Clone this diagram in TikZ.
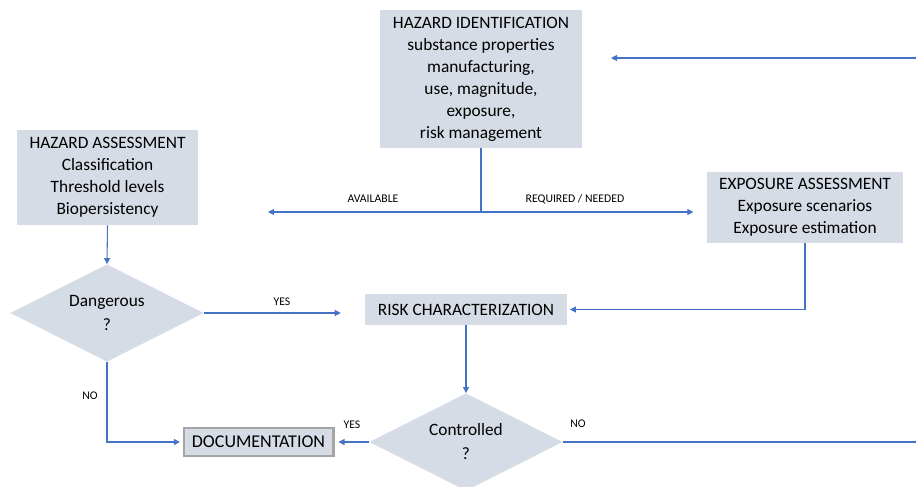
\documentclass[tikz,border=0pt]{standalone}
\usepackage{fontspec}
\setmainfont{Carlito}
\usepackage{tikz}
\usetikzlibrary{
    arrows.meta,
    positioning,
    shapes.geometric,
    calc
}
\definecolor{flowBlue}{RGB}{68,114,196}
\definecolor{boxFill}{RGB}{214,220,229}
\definecolor{docEdge}{RGB}{165,165,165}
\tikzset{
  box/.style      = {fill=boxFill, align=center, inner sep=2pt,
                     font=\fontsize{13}{16.5}\selectfont},
  decision/.style = {diamond, fill=boxFill, aspect=2, minimum width=145pt,
                     minimum height=73pt, inner sep=0pt, align=center,
                     font=\fontsize{13}{18}\selectfont},
  arr/.style      = {-{Triangle[length=4.5pt,width=4.5pt]}, flowBlue,
                     line width=0.8pt},
  lnk/.style      = {flowBlue, line width=0.8pt},
  tag/.style      = {inner sep=0pt, font=\fontsize{8.8}{10}\selectfont}
}

\begin{document}
\begin{tikzpicture}[x=0.75pt, y=-0.75pt]
    \useasboundingbox (0,0) rectangle (916,486);
    \node[box, minimum width=151.5pt, minimum height=103.5pt] (hazid) at (481,79)
        {HAZARD IDENTIFICATION\\substance properties\\manufacturing,\\use, magnitude,\\exposure,\\risk management};
    \node[box, minimum width=135.75pt, minimum height=71.25pt] (hazass) at (107.5,177.5)
        {HAZARD ASSESSMENT\\Classification\\Threshold levels\\Biopersistency};
    \node[box, minimum width=147pt, minimum height=53.25pt] (expass) at (805,207.5)
        {EXPOSURE ASSESSMENT\\Exposure scenarios\\Exposure estimation};
    \node[box, minimum width=151.5pt, minimum height=23.25pt] (riskchar) at (466,309.5)
        {RISK CHARACTERIZATION};
    \node[decision] (danger) at (107,313) {Dangerous\\?};
    \node[decision] (control) at (466,442) {Controlled\\?};
    \node[box, draw=docEdge, line width=2pt, minimum width=112pt,
          minimum height=21pt, font=\fontsize{13.5}{16}\selectfont] (doc) at (258.5,442) {DOCUMENTATION};

    \coordinate (split) at (481,212);
    \coordinate (availend) at (268,212);
    \coordinate (retin) at (916,58);
    \coordinate (retend) at (611,58);
    \coordinate (noout) at (916,442);

    \draw[lnk] (hazid.south) -- (split);
    \draw[arr] (split) -- (availend);
    \draw[arr, shorten >=10pt] (split) -- (expass.west |- split);
    \draw[arr] (retin) -- (retend);
    \draw[arr] (hazass.south) -- (danger.north);
    \draw[arr, shorten >=18pt] (danger.east) -- (danger.east -| riskchar.west);
    \draw[arr, shorten >=2pt] (expass.south) |- (riskchar.east);
    \draw[arr] (riskchar.south) -- (control.north);
    \draw[arr, shorten >=3pt] (control.west) -- (doc.east);
    \draw[lnk] (control.east) -- (noout);
    \draw[arr, shorten >=2pt] (danger.south) |- (doc.west);

    \node[tag] (lavail) at (373,199) {AVAILABLE};
    \node[tag] (lneed) at (575,199) {REQUIRED / NEEDED};
    \node[tag] (lyes1) at (282,302) {YES};
    \node[tag] (lyes2) at (352,425) {YES};
    \node[tag] (lno1) at (90,396) {NO};
    \node[tag] (lno2) at (578,424) {NO};
\end{tikzpicture}
\end{document}
